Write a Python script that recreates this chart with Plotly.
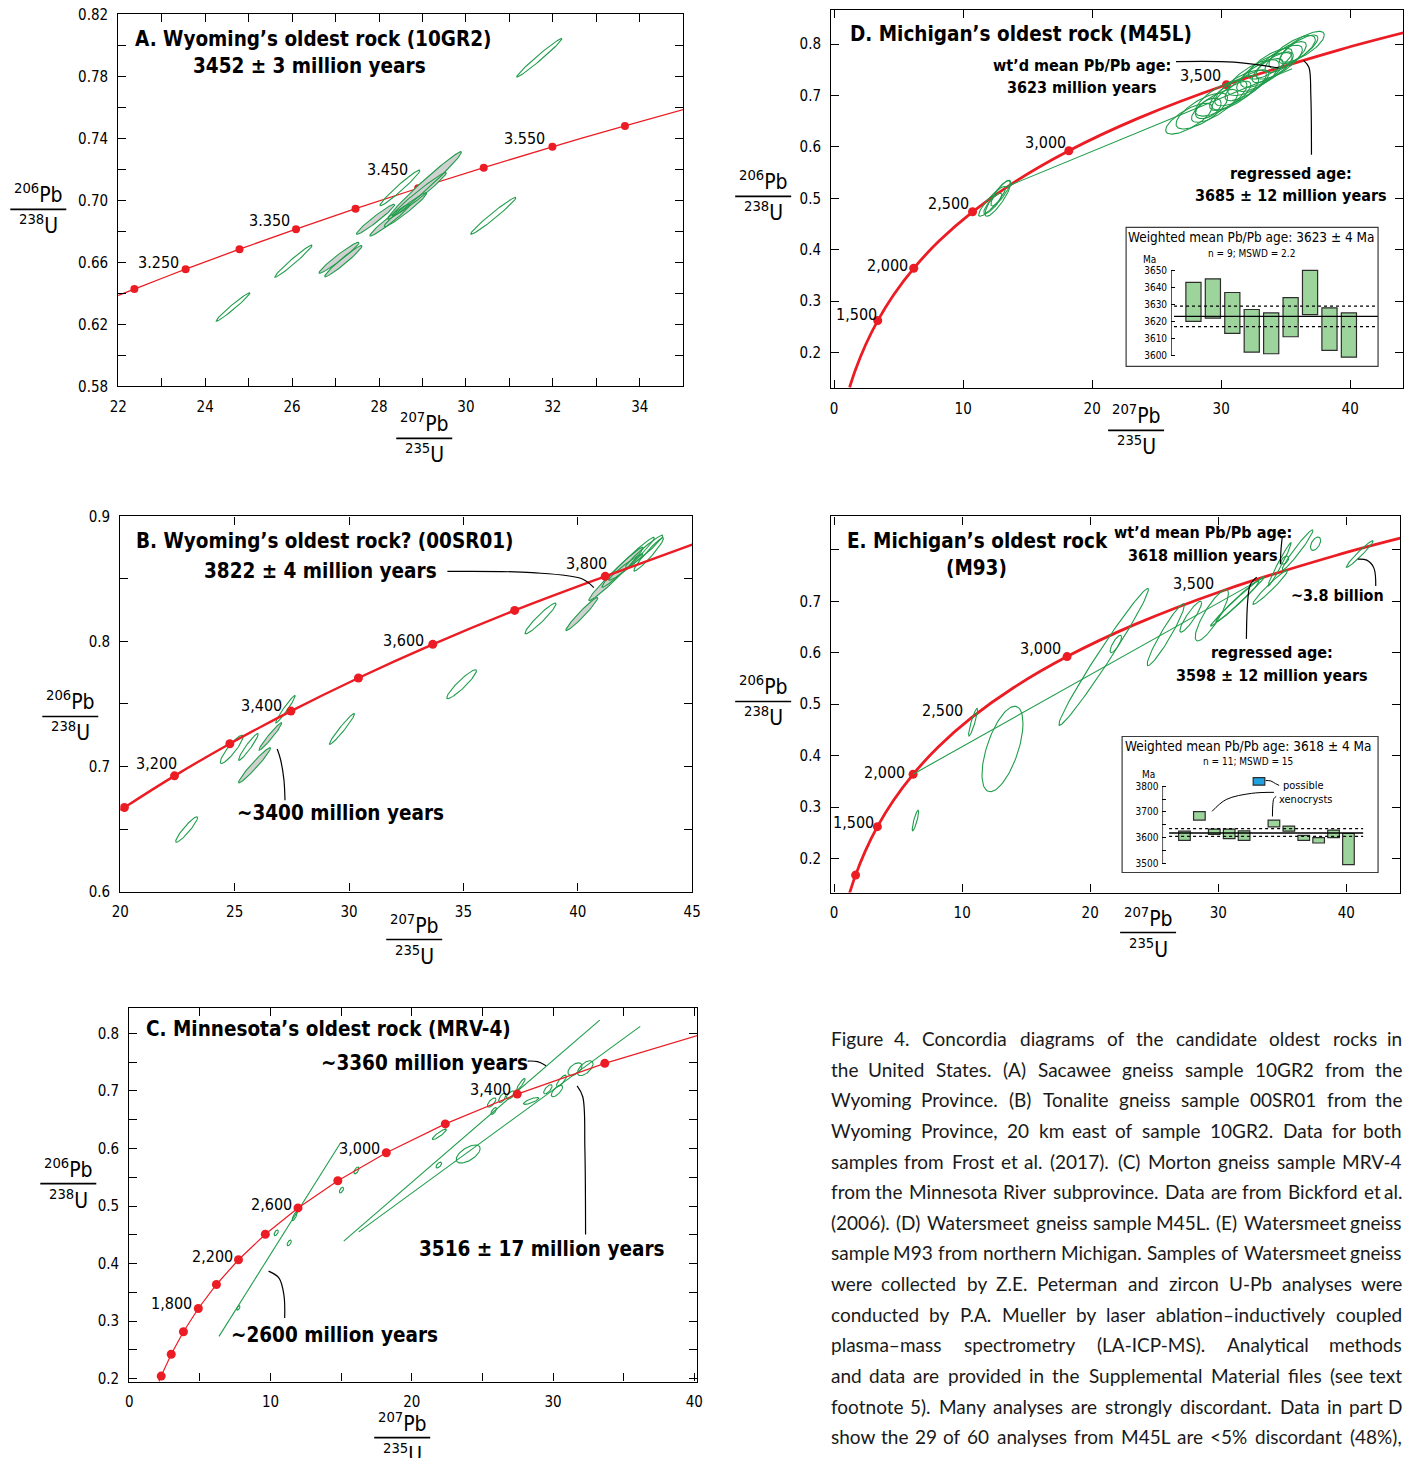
import numpy as np
import plotly.graph_objects as go

# mapping from reference pixel position to figure pixel (measured from the renderer)
SCALE, OFFS = 0.9875, 8.7
FW, FH = 1421, 1468
GREEN = '#1f9d4a'
RED = '#ec1c24'
GRAYFILL = 'rgb(208,208,208)'
NARROW = 'DejaVu Sans Condensed, Liberation Sans Narrow, Arial Narrow, sans-serif'
CAPFONT = 'Lato, Open Sans, sans-serif'

# ======================= DATA =======================
# ---- Panel A (10GR2) ----
A_curve_x = [21.91, 22.37, 23.55, 24.79, 26.09, 27.46, 28.90, 30.41, 31.99, 33.66, 35.04]
A_curve_y = [0.6377, 0.6428, 0.6556, 0.6685, 0.6814, 0.6946, 0.7078, 0.7211, 0.7345, 0.7480, 0.7588]
A_mark_x = [22.37, 23.55, 24.79, 26.09, 27.46, 28.90, 30.41, 31.99, 33.66]
A_mark_y = [0.6428, 0.6556, 0.6685, 0.6814, 0.6946, 0.7078, 0.7211, 0.7345, 0.7480]
A_labels = ['3.250', '3.350', '3.450', '3.550']
# ellipses: centre x, centre y, half-width x, half-height y, correlation, filled
A_ell_cx = [31.69, 24.64, 26.03, 30.63, 28.48, 27.08, 27.18, 27.92, 28.25, 28.61, 29.05, 28.93]
A_ell_cy = [0.792, 0.6312, 0.6608, 0.690, 0.708, 0.663, 0.6608, 0.6878, 0.6873, 0.694, 0.7096, 0.704]
A_ell_sx = [0.52, 0.39, 0.43, 0.52, 0.46, 0.46, 0.43, 0.44, 0.46, 0.49, 0.85, 0.62]
A_ell_sy = [0.0124, 0.0092, 0.0104, 0.0119, 0.0115, 0.0100, 0.0101, 0.0097, 0.0103, 0.011, 0.0218, 0.014]
A_ell_r = [0.985, 0.98, 0.98, 0.98, 0.975, 0.97, 0.97, 0.97, 0.97, 0.97, 0.985, 0.98]
A_ell_f = [0, 0, 0, 0, 0, 1, 1, 1, 1, 1, 1, 1]

# ---- Panel B (00SR01) ----
B_curve_x = [20.0, 20.18, 22.37, 24.79, 27.46, 30.41, 33.66, 37.24, 41.2, 45.0]
B_curve_y = [0.665, 0.6672, 0.6925, 0.7182, 0.7443, 0.7708, 0.7977, 0.8248, 0.8521, 0.8774]
B_mark_x = [20.18, 22.37, 24.79, 27.46, 30.41, 33.66, 37.24, 41.2]
B_mark_y = [0.6672, 0.6925, 0.7182, 0.7443, 0.7708, 0.7977, 0.8248, 0.8521]
B_labels = ['3,200', '3,400', '3,600', '3,800']
B_ell_cx = [22.9, 24.87, 25.6, 25.87, 26.56, 27.22, 29.69, 34.92, 38.37, 40.18, 41.67, 42.2, 42.9, 42.1, 43.1]
B_ell_cy = [0.6496, 0.7137, 0.7157, 0.701, 0.724, 0.7458, 0.730, 0.7658, 0.8184, 0.822, 0.854, 0.8633, 0.872, 0.8595, 0.8696]
B_ell_sx = [0.48, 0.50, 0.43, 0.70, 0.50, 0.43, 0.55, 0.65, 0.68, 0.70, 1.19, 1.15, 0.82, 0.75, 0.65]
B_ell_sy = [0.0102, 0.0113, 0.0107, 0.0141, 0.011, 0.011, 0.0124, 0.0116, 0.0123, 0.0133, 0.0213, 0.020, 0.013, 0.0106, 0.0133]
B_ell_r = [0.93, 0.90, 0.95, 0.97, 0.97, 0.97, 0.97, 0.93, 0.95, 0.97, 0.98, 0.98, 0.97, 0.97, 0.96]
B_ell_f = [0, 0, 0, 1, 1, 0, 0, 0, 0, 1, 1, 0, 0, 1, 0]

# ---- Panel C (MRV-4) ----
C_curve_x = [2.104, 2.260, 2.970, 3.834, 4.887, 6.169, 7.729, 9.630, 11.944, 14.762, 18.193, 22.37, 27.46, 33.66, 40.38]
C_curve_y = [0.1953, 0.2046, 0.2426, 0.2817, 0.3221, 0.3638, 0.4067, 0.4511, 0.4968, 0.5440, 0.5926, 0.6428, 0.6946, 0.7480, 0.7975]
C_mark_x = [2.260, 2.970, 3.834, 4.887, 6.169, 7.729, 9.630, 11.944, 14.762, 18.193, 22.37, 27.46, 33.66]
C_mark_y = [0.2046, 0.2426, 0.2817, 0.3221, 0.3638, 0.4067, 0.4511, 0.4968, 0.5440, 0.5926, 0.6428, 0.6946, 0.7480]
C_labels = ['1,800', '2,200', '2,600', '3,000', '3,400']
C_ell_cx = [7.72, 10.4, 11.32, 11.71, 15.02, 16.08, 21.91, 21.95, 23.99, 25.65, 25.8, 26.4, 27.0, 27.72, 28.45, 29.63, 30.27, 30.59, 31.55, 32.28]
C_ell_cy = [0.323, 0.4535, 0.436, 0.4826, 0.5278, 0.562, 0.5713, 0.6247, 0.5905, 0.68, 0.6653, 0.688, 0.693, 0.7118, 0.6828, 0.703, 0.700, 0.7176, 0.7379, 0.7396]
C_ell_sx = [0.12, 0.15, 0.15, 0.18, 0.15, 0.18, 0.2, 0.5, 0.85, 0.3, 0.2, 0.25, 0.3, 0.3, 0.55, 0.3, 0.4, 0.35, 0.5, 0.55]
C_ell_sy = [0.004, 0.005, 0.005, 0.008, 0.005, 0.006, 0.005, 0.009, 0.0157, 0.008, 0.006, 0.008, 0.007, 0.01, 0.006, 0.008, 0.01, 0.01, 0.011, 0.013]
C_ell_r = [0.6, 0.6, 0.6, 0.8, 0.6, 0.6, 0.6, 0.9, 0.6, 0.7, 0.7, 0.6, 0.6, 0.9, 0.8, 0.7, 0.7, 0.8, 0.5, 0.6]
# discordia lines (lower end, upper end)
C_disc_x0 = [6.35, 15.18, 16.24]
C_disc_y0 = [0.2736, 0.439, 0.4553]
C_disc_x1 = [14.96, 33.3, 36.17]
C_disc_y1 = [0.6102, 0.8232, 0.8122]

# ---- Panels D & E concordia ----
DE_curve_x = [1.199, 1.677, 2.425, 3.381, 4.604, 6.169, 8.170, 10.730, 14.006, 18.193, 23.55, 30.41, 39.17, 44.21]
DE_curve_y = [0.1321, 0.1678, 0.2140, 0.2620, 0.3119, 0.3638, 0.4177, 0.4738, 0.5320, 0.5926, 0.6556, 0.7211, 0.7891, 0.8227]
D_mark_x = [3.381, 6.169, 10.730, 18.193, 30.41]
D_mark_y = [0.2620, 0.3638, 0.4738, 0.5926, 0.7211]
E_mark_x = [1.677, 3.381, 6.169, 18.193]
E_mark_y = [0.1678, 0.2620, 0.3638, 0.5926]
DE_labels = ['1,500', '2,000', '2,500', '3,000', '3,500']

# ---- Panel D (M45L) ----
D_ell_cx = [12.25, 12.7, 12.9, 12.3, 27.5, 28.5, 29.5, 30.0, 30.8, 31.5, 32.0, 32.5, 33.0, 33.5, 34.0, 34.5, 35.0, 35.5, 36.0, 36.3, 29.0, 31.0, 33.8]
D_ell_cy = [0.494, 0.500, 0.510, 0.49, 0.655, 0.67, 0.68, 0.695, 0.70, 0.715, 0.72, 0.735, 0.74, 0.75, 0.755, 0.765, 0.775, 0.785, 0.79, 0.795, 0.675, 0.705, 0.762]
D_ell_sx = [1.05, 1.0, 0.75, 0.7, 1.8, 2.0, 1.8, 2.0, 1.5, 2.0, 1.7, 2.0, 1.8, 2.0, 1.6, 1.8, 1.6, 1.8, 1.5, 1.7, 1.0, 1.9, 1.7]
D_ell_sy = [0.029, 0.035, 0.025, 0.02, 0.030, 0.035, 0.032, 0.035, 0.028, 0.035, 0.03, 0.035, 0.032, 0.034, 0.03, 0.033, 0.03, 0.032, 0.028, 0.03, 0.02, 0.034, 0.03]
D_ell_r = [0.9, 0.86, 0.85, 0.85, 0.74, 0.72, 0.75, 0.72, 0.76, 0.74, 0.76, 0.72, 0.75, 0.74, 0.76, 0.74, 0.76, 0.75, 0.78, 0.76, 0.5, 0.74, 0.76]
D_disc_x = [13.2, 35.5]
D_disc_y = [0.521, 0.752]

# ---- Panel E (M93) ----
E_ell_cx = [6.35, 10.85, 13.15, 21.05, 22.0, 25.9, 27.85, 29.5, 31.5, 31.5, 34.05, 34.8, 36.2, 37.6, 35.2, 41.05]
E_ell_cy = [0.274, 0.465, 0.413, 0.592, 0.617, 0.635, 0.67, 0.673, 0.70, 0.70, 0.727, 0.772, 0.80, 0.812, 0.78, 0.792]
E_ell_sx = [0.25, 0.35, 1.6, 3.5, 0.45, 1.45, 0.85, 1.3, 2.1, 1.7, 1.35, 0.9, 1.2, 0.4, 0.3, 1.05]
E_ell_sy = [0.02, 0.027, 0.083, 0.133, 0.017, 0.06, 0.03, 0.05, 0.048, 0.04, 0.033, 0.042, 0.039, 0.013, 0.008, 0.026]
E_ell_r = [0.85, 0.9, 0.6, 0.985, 0.8, 0.95, 0.9, 0.85, 0.99, 0.98, 0.97, 0.98, 0.97, 0.5, 0.5, 0.97]
E_disc_x = [6.17, 33.6]
E_disc_y = [0.364, 0.747]

# ---- Insets: weighted mean Pb/Pb ages (Ma) ----
D_bar_top = [3643, 3645, 3637, 3627, 3625, 3634, 3650, 3628, 3625]
D_bar_bot = [3620, 3622, 3613, 3602, 3601, 3611, 3624, 3603, 3599]
D_mean, D_lo, D_hi = 3623, 3617, 3629
E_bar_top = [3625, 3701, 3633, 3633, 3626, 3833, 3668, 3645, 3609, 3600, 3629, 3616]
E_bar_bot = [3589, 3668, 3612, 3596, 3589, 3804, 3642, 3625, 3589, 3579, 3600, 3495]
E_bar_blue = [0, 0, 0, 0, 0, 1, 0, 0, 0, 0, 0, 0]
E_mean, E_lo, E_hi = 3618, 3605, 3635

CAPTION = [
    "Figure 4. Concordia diagrams of the candidate oldest rocks in",
    "the United States. (A) Sacawee gneiss sample 10GR2 from the",
    "Wyoming Province. (B) Tonalite gneiss sample 00SR01 from the",
    "Wyoming Province, 20 km east of sample 10GR2. Data for both",
    "samples from Frost et al. (2017). (C) Morton gneiss sample MRV-4",
    "from the Minnesota River subprovince. Data are from Bickford et al.",
    "(2006). (D) Watersmeet gneiss sample M45L. (E) Watersmeet gneiss",
    "sample M93 from northern Michigan. Samples of Watersmeet gneiss",
    "were collected by Z.E. Peterman and zircon U-Pb analyses were",
    "conducted by P.A. Mueller by laser ablation\u2013inductively coupled",
    "plasma\u2013mass spectrometry (LA-ICP-MS). Analytical methods",
    "and data are provided in the Supplemental Material files (see text",
    "footnote 5). Many analyses are strongly discordant. Data in part D",
    "show the 29 of 60 analyses from M45L are <5% discordant (48%),",
]

# ======================= FIGURE =======================
fig = go.Figure()
annotations = []
shapes = []


def px2paper(px, py):
    fx = (px - OFFS) / SCALE
    fy = (py - OFFS) / SCALE
    return fx / FW, 1 - fy / FH


def add_axes(n, xpx, ypx, xr, yr, xt, xl, yt, yl, xminor=None, yminor=None, size=15, ticklen=8):
    sfx = '' if n == 1 else str(n)
    common = dict(ticks='inside', ticklen=ticklen, tickwidth=1, tickcolor='black',
                  showline=True, linecolor='black', linewidth=1.3, mirror='ticks',
                  showgrid=False, zeroline=False, fixedrange=True,
                  tickfont=dict(family=NARROW, size=size, color='black'))
    x0, y1 = px2paper(xpx[0], ypx[1])
    x1, y0 = px2paper(xpx[1], ypx[0])
    xa = dict(domain=[x0, x1], range=xr, anchor='y' + sfx, tickmode='array',
              tickvals=xt, ticktext=xl, ticklabelstandoff=6, **common)
    ya = dict(domain=[y1, y0], range=yr, anchor='x' + sfx, tickmode='array',
              tickvals=yt, ticktext=yl, ticklabelstandoff=6, **common)
    if xminor:
        xa['minor'] = dict(tickmode='array', tickvals=xminor, ticks='inside', ticklen=ticklen,
                           tickwidth=1, tickcolor='black', showgrid=False)
    if yminor:
        ya['minor'] = dict(tickmode='array', tickvals=yminor, ticks='inside', ticklen=ticklen,
                           tickwidth=1, tickcolor='black', showgrid=False)
    fig.layout['xaxis' + sfx] = xa
    fig.layout['yaxis' + sfx] = ya
    return 'x' + sfx, 'y' + sfx


def ellipse_pts(cx, cy, sx, sy, r):
    t = np.linspace(0, 2 * np.pi, 90)
    x = cx + sx * np.cos(t)
    y = cy + sy * (r * np.cos(t) + np.sqrt(max(1 - r * r, 0)) * np.sin(t))
    return x, y


def draw_ellipses(xa, ya, cx, cy, sx, sy, rr, ff=None, lw=1.1):
    ff = ff or [0] * len(cx)
    for i in range(len(cx)):
        if ff[i]:
            x, y = ellipse_pts(cx[i], cy[i], sx[i], sy[i], rr[i])
            fig.add_trace(go.Scatter(x=x, y=y, xaxis=xa, yaxis=ya, mode='lines', fill='toself',
                                     fillcolor=GRAYFILL, line=dict(width=0, color=GRAYFILL),
                                     hoverinfo='skip', showlegend=False))
    for i in range(len(cx)):
        x, y = ellipse_pts(cx[i], cy[i], sx[i], sy[i], rr[i])
        fig.add_trace(go.Scatter(x=x, y=y, xaxis=xa, yaxis=ya, mode='lines',
                                 line=dict(width=lw, color=GREEN), hoverinfo='skip', showlegend=False))


def draw_curve(xa, ya, cx, cy, mx, my, lw, ms, shape='spline'):
    fig.add_trace(go.Scatter(x=cx, y=cy, xaxis=xa, yaxis=ya, mode='lines',
                             line=dict(color=RED, width=lw, shape=shape, smoothing=1.0),
                             hoverinfo='skip', showlegend=False))
    fig.add_trace(go.Scatter(x=mx, y=my, xaxis=xa, yaxis=ya, mode='markers',
                             marker=dict(color=RED, size=ms), hoverinfo='skip', showlegend=False))


def leader(xa, ya, xs, ys, lw=1.2):
    fig.add_trace(go.Scatter(x=xs, y=ys, xaxis=xa, yaxis=ya, mode='lines',
                             line=dict(color='black', width=lw, shape='spline', smoothing=1.0),
                             hoverinfo='skip', showlegend=False))


def text(xa, ya, x, y, s, size=15, bold=False, xanchor='center', yanchor='middle', family=NARROW):
    if bold:
        s = '<b>' + s + '</b>'
    annotations.append(dict(x=x, y=y, xref=xa, yref=ya, text=s, showarrow=False,
                            xanchor=xanchor, yanchor=yanchor,
                            font=dict(family=family, size=size, color='black')))


def ptext(px, py, s, size, xanchor='center', family=NARROW, color='black'):
    p = px2paper(px, py)
    annotations.append(dict(x=p[0], y=p[1], xref='paper', yref='paper', text=s, showarrow=False,
                            xanchor=xanchor, yanchor='middle',
                            font=dict(family=family, size=size, color=color)))


def frac(xc, yl, num, den, half=28, size=21):
    px, py = px2paper(xc, yl)
    annotations.append(dict(x=px, y=py, xref='paper', yref='paper', text=num, showarrow=False,
                            xanchor='center', yanchor='bottom',
                            font=dict(family=NARROW, size=size, color='black')))
    annotations.append(dict(x=px, y=py, xref='paper', yref='paper', text=den, showarrow=False,
                            xanchor='center', yanchor='top', yshift=1,
                            font=dict(family=NARROW, size=size, color='black')))
    x0, _ = px2paper(xc - half, yl)
    x1, _ = px2paper(xc + half, yl)
    shapes.append(dict(type='line', xref='paper', yref='paper', x0=x0, x1=x1, y0=py, y1=py,
                       line=dict(color='black', width=1.6)))


NUMY = '<sup>206</sup>Pb'
DENY = '<sup>238</sup>U'
NUMX = '<sup>207</sup>Pb'
DENX = '<sup>235</sup>U'
TS = 20.5   # bold titles
AS = 16     # bold annotations in D / E
LS = 16     # age labels

# ---------------- Panel A ----------------
xt = list(range(22, 35, 2)); xm = list(range(23, 36, 2))
yt = [0.58, 0.62, 0.66, 0.70, 0.74, 0.78, 0.82]; ym = [0.60, 0.64, 0.68, 0.72, 0.76, 0.80]
xa, ya = add_axes(1, (118, 683), (14, 386), [22, 35], [0.58, 0.82],
                  xt, [str(v) for v in xt], yt, [f'{v:.2f}' for v in yt], xm, ym)
draw_curve(xa, ya, A_curve_x, A_curve_y, A_mark_x, A_mark_y, 1.3, 8)
draw_ellipses(xa, ya, A_ell_cx, A_ell_cy, A_ell_sx, A_ell_sy, A_ell_r, A_ell_f)
for s, (x, y) in zip(A_labels, [(22.93, 0.6598), (25.47, 0.6867), (28.2, 0.7197), (31.35, 0.7396)]):
    text(xa, ya, x, y, s, LS)
text(xa, ya, 22.33, 0.8043, "A. Wyoming\u2019s oldest rock (10GR2)", TS, True, 'left')
text(xa, ya, 26.4, 0.7864, "3452 \u00b1 3 million years", TS, True)
frac(38, 209, NUMY, DENY)
frac(424, 438, NUMX, DENX)

# ---------------- Panel B ----------------
xt = [20, 25, 30, 35, 40, 45]
yt = [0.6, 0.7, 0.8, 0.9]; ym = [0.65, 0.75, 0.85]
xa, ya = add_axes(2, (120, 692), (516, 891), [20, 45], [0.6, 0.9],
                  xt, [str(v) for v in xt], yt, [f'{v:.1f}' for v in yt], None, ym)
draw_ellipses(xa, ya, B_ell_cx, B_ell_cy, B_ell_sx, B_ell_sy, B_ell_r, B_ell_f)
draw_curve(xa, ya, B_curve_x, B_curve_y, B_mark_x, B_mark_y, 2.4, 9)
for s, (x, y) in zip(B_labels, [(21.6, 0.7024), (26.16, 0.749), (32.4, 0.8008), (40.4, 0.8625)]):
    text(xa, ya, x, y, s, LS)
text(xa, ya, 20.6, 0.880, "B. Wyoming\u2019s oldest rock? (00SR01)", TS, True, 'left')
text(xa, ya, 28.75, 0.8566, "3822 \u00b1 4 million years", TS, True)
text(xa, ya, 29.64, 0.6625, "~3400 million years", TS, True)
leader(xa, ya, [34.3, 38.0, 40.2, 40.7], [0.856, 0.855, 0.850, 0.843])
leader(xa, ya, [27.2, 27.15, 27.0, 26.86], [0.673, 0.690, 0.706, 0.714])
frac(70, 716, NUMY, DENY)
frac(414, 939, NUMX, DENX)

# ---------------- Panel C ----------------
xt = [0, 10, 20, 30, 40]; xm = [5, 15, 25, 35]
yt = [0.2, 0.3, 0.4, 0.5, 0.6, 0.7, 0.8]; ym = [0.25, 0.35, 0.45, 0.55, 0.65, 0.75]
xa, ya = add_axes(3, (129, 697), (1007, 1381), [0, 40.2], [0.195, 0.845],
                  xt, [str(v) for v in xt], yt, [f'{v:.1f}' for v in yt], xm, ym)
for i in range(len(C_disc_x0)):
    fig.add_trace(go.Scatter(x=[C_disc_x0[i], C_disc_x1[i]], y=[C_disc_y0[i], C_disc_y1[i]],
                             xaxis=xa, yaxis=ya, mode='lines', line=dict(color=GREEN, width=1.1),
                             hoverinfo='skip', showlegend=False))
draw_ellipses(xa, ya, C_ell_cx, C_ell_cy, C_ell_sx, C_ell_sy, C_ell_r)
draw_curve(xa, ya, C_curve_x, C_curve_y, C_mark_x, C_mark_y, 1.2, 9, shape='linear')
for s, (x, y) in zip(C_labels, [(3.0, 0.330), (5.9, 0.413), (10.1, 0.503), (16.3, 0.600), (25.6, 0.703)]):
    text(xa, ya, x, y, s, LS)
text(xa, ya, 1.02, 0.8075, "C. Minnesota\u2019s oldest rock (MRV-4)", TS, True, 'left')
text(xa, ya, 20.9, 0.7495, "~3360 million years", TS, True)
text(xa, ya, 29.2, 0.4262, "3516 \u00b1 17 million years", TS, True)
text(xa, ya, 14.5, 0.2753, "~2600 million years", TS, True)
leader(xa, ya, [28.2, 28.9, 29.5], [0.752, 0.751, 0.744])
leader(xa, ya, [32.3, 32.25, 32.1, 31.7], [0.4506, 0.60, 0.69, 0.709])
leader(xa, ya, [11.0, 10.95, 10.6, 9.86], [0.3055, 0.345, 0.375, 0.387])
frac(68, 1183, NUMY, DENY)
frac(402, 1437, NUMX, DENX)

# ---------------- Panel D ----------------
xt = [0, 10, 20, 30, 40]
yt = [0.2, 0.3, 0.4, 0.5, 0.6, 0.7, 0.8]
xa, ya = add_axes(4, (831, 1403), (10, 388), [-0.23, 44.1], [0.13, 0.866],
                  xt, [str(v) for v in xt], yt, [f'{v:.1f}' for v in yt])
draw_curve(xa, ya, DE_curve_x, DE_curve_y, D_mark_x, D_mark_y, 2.8, 9)
fig.add_trace(go.Scatter(x=D_disc_x, y=D_disc_y, xaxis=xa, yaxis=ya, mode='lines',
                         line=dict(color=GREEN, width=1.1), hoverinfo='skip', showlegend=False))
draw_ellipses(xa, ya, D_ell_cx, D_ell_cy, D_ell_sx, D_ell_sy, D_ell_r)
for s, (x, y) in zip(DE_labels, [(1.73, 0.273), (4.16, 0.370), (8.83, 0.49), (16.4, 0.609), (28.4, 0.739)]):
    text(xa, ya, x, y, s, LS)
text(xa, ya, 1.04, 0.819, "D. Michigan\u2019s oldest rock (M45L)", TS, True, 'left')
text(xa, ya, 19.2, 0.758, "wt\u2019d mean Pb/Pb age:", AS, True)
text(xa, ya, 19.2, 0.715, "3623 million years", AS, True)
text(xa, ya, 35.4, 0.549, "regressed age:", AS, True)
text(xa, ya, 35.4, 0.506, "3685 \u00b1 12 million years", AS, True)
leader(xa, ya, [26.5, 31.0, 34.45], [0.766, 0.765, 0.754])
leader(xa, ya, [37.0, 36.95, 36.8, 36.4], [0.585, 0.70, 0.755, 0.768])
frac(763, 196, NUMY, DENY)
frac(1136, 430, NUMX, DENX)

# ---------------- Panel E ----------------
yt = [0.2, 0.3, 0.4, 0.5, 0.6, 0.7]
xa, ya = add_axes(5, (831, 1400), (516, 892), [-0.23, 44.2], [0.134, 0.865],
                  xt, [str(v) for v in xt], yt, [f'{v:.1f}' for v in yt], None, [0.8])
draw_curve(xa, ya, DE_curve_x, DE_curve_y, E_mark_x, E_mark_y, 2.8, 9)
fig.add_trace(go.Scatter(x=E_disc_x, y=E_disc_y, xaxis=xa, yaxis=ya, mode='lines',
                         line=dict(color=GREEN, width=1.1), hoverinfo='skip', showlegend=False))
draw_ellipses(xa, ya, E_ell_cx, E_ell_cy, E_ell_sx, E_ell_sy, E_ell_r)
for s, (x, y) in zip(DE_labels, [(1.5, 0.27), (3.9, 0.367), (8.5, 0.487), (16.1, 0.608), (28.1, 0.734)]):
    text(xa, ya, x, y, s, LS)
text(xa, ya, 0.87, 0.818, "E. Michigan\u2019s oldest rock", TS, True, 'left')
text(xa, ya, 11.1, 0.764, "(M93)", TS, True)
text(xa, ya, 28.8, 0.833, "wt\u2019d mean Pb/Pb age:", AS, True)
text(xa, ya, 28.8, 0.789, "3618 million years", AS, True)
text(xa, ya, 34.2, 0.600, "regressed age:", AS, True)
text(xa, ya, 34.2, 0.556, "3598 \u00b1 12 million years", AS, True)
text(xa, ya, 39.3, 0.712, "~3.8 billion", AS, True)
leader(xa, ya, [34.85, 34.9, 35.0], [0.772, 0.80, 0.825])
leader(xa, ya, [32.2, 32.3, 32.5, 33.0], [0.627, 0.70, 0.732, 0.747])
leader(xa, ya, [42.3, 42.15, 41.6, 40.9], [0.73, 0.765, 0.78, 0.782])
frac(763, 701, NUMY, DENY)
frac(1148, 932, NUMX, DENX)

# ---------------- Inset D ----------------
xa, ya = add_axes(6, (1171, 1378), (264.9, 360.2), [-0.15, 10.5], [3597, 3653],
                  [], [], [3600, 3610, 3620, 3630, 3640, 3650],
                  ['3600', '3610', '3620', '3630', '3640', '3650'], size=10, ticklen=4)
fig.layout['xaxis6'].update(visible=False)
fig.layout['yaxis6'].update(showline=False, mirror=False, ticklabelstandoff=3)
nD = list(range(1, len(D_bar_top) + 1))
fig.add_trace(go.Bar(x=nD, y=[t - b for t, b in zip(D_bar_top, D_bar_bot)], base=D_bar_bot,
                     xaxis=xa, yaxis=ya, width=0.78, marker=dict(color='rgb(157,212,155)',
                     line=dict(color='rgb(45,45,45)', width=1.2)), hoverinfo='skip', showlegend=False))
for v, dash in [(D_mean, 'solid'), (D_lo, 'dot'), (D_hi, 'dot')]:
    fig.add_trace(go.Scatter(x=[0.0, 10.5], y=[v, v], xaxis=xa, yaxis=ya, mode='lines',
                             line=dict(color='black', width=1.4 if dash == 'solid' else 1.2, dash=dash),
                             hoverinfo='skip', showlegend=False))
shapes.append(dict(type='line', xref='x6', yref='y6', x0=-0.15, x1=-0.15, y0=3600, y1=3650,
                   line=dict(color='black', width=1.3)))
b0 = px2paper(1126, 227); b1 = px2paper(1378, 366)
shapes.append(dict(type='rect', xref='paper', yref='paper', x0=b0[0], y0=b1[1], x1=b1[0], y1=b0[1],
                   line=dict(color='rgb(60,60,60)', width=1.2)))
ptext(1251, 237, 'Weighted mean Pb/Pb age: 3623 \u00b1 4 Ma', 13.5)
ptext(1251, 253, 'n = 9; MSWD = 2.2', 10)
ptext(1149, 259, 'Ma', 10)

# ---------------- Inset E ----------------
xa, ya = add_axes(7, (1162.3, 1363.3), (774.1, 865.4), [-0.48, 13.0], [3490, 3845],
                  [], [], [3500, 3600, 3700, 3800], ['3500', '3600', '3700', '3800'],
                  None, [3550, 3650, 3750], size=10, ticklen=4)
fig.layout['xaxis7'].update(visible=False)
fig.layout['yaxis7'].update(showline=False, mirror=False, ticklabelstandoff=3)
fig.layout['yaxis7'].minor.update(ticklen=4)
nE = list(range(1, len(E_bar_top) + 1))
fig.add_trace(go.Bar(x=nE, y=[t - b for t, b in zip(E_bar_top, E_bar_bot)], base=E_bar_bot,
                     xaxis=xa, yaxis=ya, width=0.78,
                     marker=dict(color=['rgb(30,160,225)' if f else 'rgb(157,212,155)' for f in E_bar_blue],
                                 line=dict(color='rgb(45,45,45)', width=1.2)), hoverinfo='skip', showlegend=False))
for v, dash in [(E_mean, 'solid'), (E_lo, 'dot'), (E_hi, 'dot')]:
    fig.add_trace(go.Scatter(x=[-0.03, 13.0], y=[v, v], xaxis=xa, yaxis=ya, mode='lines',
                             line=dict(color='black', width=1.4 if dash == 'solid' else 1.2, dash=dash),
                             hoverinfo='skip', showlegend=False))
shapes.append(dict(type='line', xref='x7', yref='y7', x0=-0.48, x1=-0.48, y0=3500, y1=3800,
                   line=dict(color='black', width=1.3)))
leader(xa, ya, [6.45, 6.8, 7.1, 7.35], [3822, 3820, 3810, 3803], lw=1.0)
leader(xa, ya, [2.85, 3.8, 5.5, 7.0], [3702, 3748, 3772, 3776], lw=1.0)
leader(xa, ya, [6.9, 6.93, 7.0, 7.15], [3682, 3730, 3752, 3760], lw=1.0)
text(xa, ya, 7.45, 3803, 'possible', 11, False, 'left')
text(xa, ya, 7.2, 3747, 'xenocrysts', 11, False, 'left')
b0 = px2paper(1122, 736); b1 = px2paper(1378, 872)
shapes.append(dict(type='rect', xref='paper', yref='paper', x0=b0[0], y0=b1[1], x1=b1[0], y1=b0[1],
                   line=dict(color='rgb(60,60,60)', width=1.2)))
ptext(1248, 746, 'Weighted mean Pb/Pb age: 3618 \u00b1 4 Ma', 13.5)
ptext(1248, 761, 'n = 11; MSWD = 15', 10)
ptext(1148, 774, 'Ma', 10)

# ---------------- Caption (justified word by word) ----------------
CW = {'a': .49, 'b': .56, 'c': .46, 'd': .56, 'e': .52, 'f': .32, 'g': .50, 'h': .56, 'i': .23, 'j': .23,
      'k': .50, 'l': .23, 'm': .83, 'n': .56, 'o': .56, 'p': .56, 'q': .56, 'r': .36, 's': .42, 't': .35,
      'u': .56, 'v': .50, 'w': .76, 'x': .49, 'y': .50, 'z': .45,
      'A': .68, 'B': .63, 'C': .67, 'D': .73, 'E': .56, 'F': .54, 'G': .71, 'H': .74, 'I': .27, 'J': .39,
      'K': .65, 'L': .50, 'M': .88, 'N': .74, 'O': .78, 'P': .59, 'Q': .78, 'R': .62, 'S': .53, 'T': .58,
      'U': .71, 'V': .68, 'W': 1.0, 'X': .64, 'Y': .61, 'Z': .60,
      '.': .21, ',': .21, '(': .30, ')': .30, '-': .35, '\u2013': .58, '<': .58, '%': .78, ':': .23}
CAP_SIZE = 19
CAP_K = 1.04
CAP_X0, CAP_X1 = 829, 1404
for i, line in enumerate(CAPTION):
    yy = 1038 + i * 30.62
    words = line.split(' ')
    wid = [sum(CW.get(c, .58) for c in w) * CAP_SIZE * CAP_K for w in words]
    gap = (CAP_X1 - CAP_X0 - sum(wid)) / (len(words) - 1)
    x = CAP_X0
    for k, w in enumerate(words):
        if k == 0:
            ptext(CAP_X0, yy, w, CAP_SIZE, 'left', CAPFONT, 'rgb(25,25,25)')
        elif k == len(words) - 1:
            ptext(CAP_X1, yy, w, CAP_SIZE, 'right', CAPFONT, 'rgb(25,25,25)')
        else:
            ptext(x + wid[k] / 2, yy, w, CAP_SIZE, 'center', CAPFONT, 'rgb(25,25,25)')
        x += wid[k] + gap

fig.update_layout(width=FW, height=FH, margin=dict(l=0, r=0, t=0, b=0),
                  paper_bgcolor='white', plot_bgcolor='rgba(0,0,0,0)',
                  showlegend=False, annotations=annotations, shapes=shapes)

fig.write_html("out.html", config={'displayModeBar': False},
               post_script="document.body.style.margin='0';")
